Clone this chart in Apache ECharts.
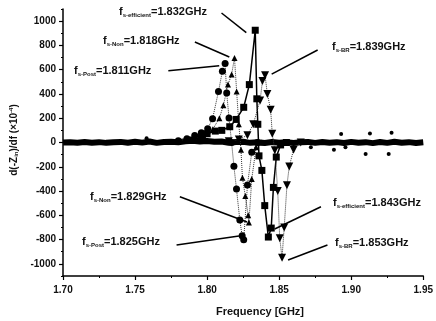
<!DOCTYPE html>
<html><head><meta charset="utf-8">
<script src="https://cdn.jsdelivr.net/npm/echarts@6/dist/echarts.min.js"></script>
<style>html,body{margin:0;padding:0;background:#fff}#c{width:436px;height:321px}</style>
</head><body><div id="c"></div>
<script>
// ---- data ----
const xTicks = [1.70, 1.75, 1.80, 1.85, 1.90, 1.95];
const yTicks = [-1000, -800, -600, -400, -200, 0, 200, 400, 600, 800, 1000];

const postX = [1.780,1.786,1.7914,1.796,1.8004,1.8038,1.8079,1.8106,1.8125,1.8136,1.8152,1.817,1.8186,1.8204,1.8227,1.8243,1.8254,1.828,1.831,1.835];
const postY = [15,30,58,80,113,196,421,587,650,407,201,0,-196,-384,-639,-769,-802,-350,-80,0];

const nonX = [1.790,1.798,1.804,1.8085,1.8113,1.8145,1.817,1.819,1.8205,1.822,1.8235,1.8245,1.8265,1.8285,1.829,1.831,1.834,1.838];
const nonY = [20,45,110,200,306,477,560,697,420,150,-60,-290,-440,-600,-660,-300,-40,0];

const effX = [1.790,1.7955,1.800,1.8057,1.8102,1.8157,1.8202,1.8254,1.8293,1.8334,1.8345,1.8352,1.836,1.838,1.840,1.8425,1.8445,1.846,1.848,1.851,1.855];
const effY = [20,40,72,94,100,130,190,290,477,925,360,150,-110,-230,-520,-779,-705,-370,-120,-20,0];

const brX = [1.815,1.822,1.828,1.832,1.8368,1.8384,1.8402,1.8418,1.8441,1.8452,1.847,1.849,1.8504,1.852,1.8535,1.8554,1.857,1.860,1.865];
const brY = [10,25,60,150,347,507,554,400,270,72,-64,-400,-788,-950,-700,-353,-198,-60,0];

const baseX = [1.700,1.705,1.710,1.715,1.720,1.725,1.730,1.735,1.740,1.745,1.750,1.755,1.760,1.765,1.770,1.775,1.780,1.785,1.790,1.795,1.800,1.805,1.810,1.815,1.820,1.825,1.830,1.835,1.840,1.845,1.850,1.855,1.860,1.865,1.870,1.875,1.880,1.885,1.890,1.895,1.900,1.905,1.910,1.915,1.920,1.925,1.930,1.935,1.940,1.945,1.950];
const baseY = [0,3,-2,4,-2,3,-3,2,5,-2,6,-1,8,-3,4,6,2,10,14,8,12,6,8,-2,4,6,-3,2,-4,4,-2,3,-4,2,5,-3,4,-2,3,-4,5,-2,3,-5,4,-3,6,-2,3,-4,2];

const spikeX = [1.758,1.872,1.888,1.893,1.896,1.910,1.913,1.926,1.928];
const spikeY = [35,-40,-60,70,-40,-95,75,-95,80];

// annotations: [label sub, label value, text-left px, text-mid px, arrow from (x,y), arrow to (x,y)]
const notes = [
  ['s-efficient','=1.832GHz',119,12,[1.8100,1067],[1.8272,905]],
  ['s-Non','=1.818GHz',103,41,[1.7915,828],[1.8154,705]],
  ['s-Post','=1.811GHz',74,71,[1.7731,592],[1.8084,633]],
  ['s-BR','=1.839GHz',332,47,[1.8767,762],[1.8448,564]],
  ['s-Non','=1.829GHz',90,197,[1.7811,-447],[1.8277,-655]],
  ['s-Post','=1.825GHz',82,242,[1.7788,-845],[1.8221,-770]],
  ['s-efficient','=1.843GHz',333,203,[1.8790,-529],[1.8469,-713]],
  ['s-BR','=1.853GHz',335,243,[1.8835,-845],[1.8562,-968]]
];

const zip = (a, b) => a.map((v, i) => [v, b[i]]);

const chart = echarts.init(document.getElementById('c'), null, {renderer: 'canvas'});
const txt = {color: '#111', fontFamily: 'Liberation Sans, Arial, sans-serif', fontWeight: 'bold', fontSize: 10};

const option = {
  animation: false,
  backgroundColor: '#fff',
  grid: {left: 63, right: 7, top: 9, bottom: 45, containLabel: false},
  xAxis: {
    type: 'value', min: 1.70, max: 1.95, interval: 0.05,
    axisLine: {show: true, onZero: false, lineStyle: {color: '#000', width: 1.5}},
    axisTick: {show: true, length: 4, inside: false, lineStyle: {color: '#000', width: 1.2}},
    minorTick: {show: true, splitNumber: 2, length: 2, lineStyle: {color: '#000'}},
    axisLabel: Object.assign({margin: 9, formatter: v => v.toFixed(2), customValues: xTicks}, txt),
    splitLine: {show: false}
  },
  yAxis: [{
    type: 'value', min: -1100, max: 1100,
    axisLine: {show: true, onZero: false, lineStyle: {color: '#000', width: 1.5}},
    axisTick: {show: true, length: 4, customValues: yTicks, lineStyle: {color: '#000', width: 1.2}},
    axisLabel: Object.assign({margin: 7, customValues: yTicks, formatter: v => String(v)}, txt),
    splitLine: {show: false}
  }, {
    type: 'value', min: -1100, max: 1100, interval: 100, position: 'left', offset: 0,
    axisLine: {show: false},
    axisTick: {show: true, length: 2, lineStyle: {color: '#000'}},
    axisLabel: {show: false},
    splitLine: {show: false}
  }],
  graphic: [
    {type: 'text', x: 14, y: 140, rotation: Math.PI / 2, style: {
      text: 'd(-Z{sub|in})/df (×10{sup|-4})', align: 'center', verticalAlign: 'middle',
      fill: '#111', font: 'bold 10px Liberation Sans, Arial, sans-serif',
      rich: {sub: {fontSize: 6, fontWeight: 'bold', padding: [5, 0, 0, 0]}, sup: {fontSize: 6, fontWeight: 'bold', padding: [0, 0, 5, 0]}}
    }},
    {type: 'text', x: 216, y: 312, style: {
      text: 'Frequency [GHz]', verticalAlign: 'middle', fill: '#111', font: 'bold 11px Liberation Sans, Arial, sans-serif'
    }}
  ].concat(notes.map(n => ({
    type: 'text', x: n[2], y: n[3], style: {
      text: '{f|f}{s|' + n[0] + '}{m|' + n[1] + '}', verticalAlign: 'middle', fill: '#111',
      rich: {
        f: {fontSize: 11, fontWeight: 'bold', fontFamily: 'Liberation Sans, Arial, sans-serif', fill: '#111'},
        s: {fontSize: 6, fontWeight: 'bold', fontFamily: 'Liberation Sans, Arial, sans-serif', fill: '#111', padding: [6, 0, 0, 0]},
        m: {fontSize: 11, fontWeight: 'bold', fontFamily: 'Liberation Sans, Arial, sans-serif', fill: '#111'}
      }
    }
  }))),
  series: [
    {
      name: 'baseline', type: 'line', data: zip(baseX, baseY), symbol: 'none',
      lineStyle: {color: '#000', width: 6}, z: 2,
      markLine: {
        silent: true, symbol: ['none', 'arrow'], symbolSize: [0, 9],
        label: {show: false},
        lineStyle: {color: '#000', width: 1.5, type: 'solid'},
        data: notes.map(n => [{coord: n[4]}, {coord: n[5]}])
      }
    },
    {
      name: 'spikes', type: 'scatter', data: zip(spikeX, spikeY), symbol: 'circle', symbolSize: 4,
      itemStyle: {color: '#000', opacity: 1}, z: 3
    },
    {
      name: 'Post', type: 'line', data: zip(postX, postY), symbol: 'circle', symbolSize: 7,
      itemStyle: {color: '#000'}, lineStyle: {color: '#333', width: 1, type: 'dotted'}, z: 4
    },
    {
      name: 'Non', type: 'line', data: zip(nonX, nonY), symbol: 'triangle', symbolSize: 6,
      itemStyle: {color: '#000'}, lineStyle: {color: '#333', width: 1, type: 'dotted'}, z: 4
    },
    {
      name: 'efficient', type: 'line', data: zip(effX, effY), symbol: 'rect', symbolSize: 7,
      itemStyle: {color: '#000'}, lineStyle: {color: '#000', width: 1.5, type: 'solid'}, z: 4
    },
    {
      name: 'BR', type: 'line', data: zip(brX, brY), symbol: 'triangle', symbolRotate: 180, symbolSize: 8,
      itemStyle: {color: '#000'}, lineStyle: {color: '#333', width: 1, type: 'dotted'}, z: 4
    }
  ]
};
chart.setOption(option);
</script>
</body></html>
